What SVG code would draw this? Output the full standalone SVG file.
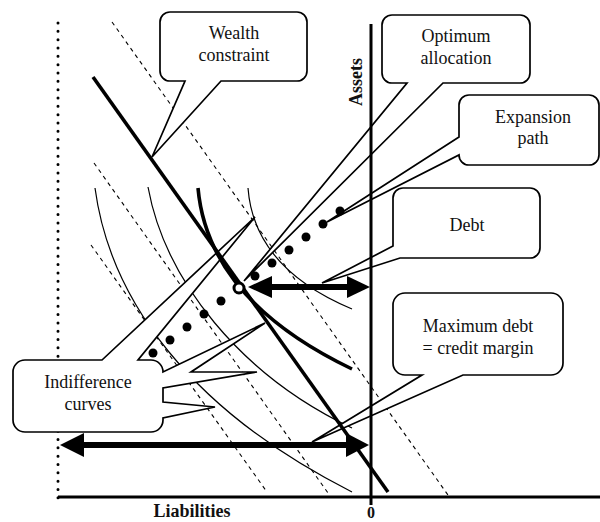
<svg xmlns="http://www.w3.org/2000/svg" width="600" height="522" viewBox="0 0 600 522">
<style>
.bg{fill:#fff}
.dash{fill:none;stroke:#000;stroke-width:1.1;stroke-dasharray:4 4}
.thin{fill:none;stroke:#000;stroke-width:1.2}
.thick{fill:none;stroke:#000;stroke-width:3.6}
.call{fill:#fff;stroke:#000;stroke-width:1.7;stroke-linejoin:miter}
.t{font-family:"Liberation Serif","Times New Roman",serif;font-size:18px;fill:#111;text-anchor:middle}
.b{font-family:"Liberation Serif","Times New Roman",serif;font-size:18px;font-weight:bold;fill:#111;text-anchor:middle}
.axis{stroke:#000;stroke-width:3;fill:none}
.shaft{stroke:#000;stroke-width:6;fill:none}
</style>
<rect class="bg" x="0" y="0" width="600" height="522"/>

<g id="grid">
  <line x1="58" y1="23" x2="58" y2="505" stroke="#000" stroke-width="3" stroke-linecap="round" stroke-dasharray="0 8.33"/>
  <line class="dash" x1="112" y1="22" x2="448" y2="495"/>
  <line class="dash" x1="94" y1="163" x2="328" y2="493"/>
  <line class="dash" x1="91" y1="245" x2="267" y2="492"/>
  <path class="thin" d="M95,188 C110,300 190,410 352,492"/>
  <path class="thin" d="M148,187 C165,280 240,375 352,428"/>
  <path class="thin" d="M248,188 Q254,268 352,309"/>
</g>

<g id="wealth-constraint-callout">
  <path class="call" d="M170,12 H297 A10,10 0 0 1 307,22 V71 A10,10 0 0 1 297,81 H221 L152,157 L185,81 H170 A10,10 0 0 1 160,71 V22 A10,10 0 0 1 170,12 Z"/>
  <text class="t" x="234" y="39">Wealth</text>
  <text class="t" x="234" y="61">constraint</text>
</g>
<g id="optimum-callout">
  <path class="call" d="M392,15 H520 A10,10 0 0 1 530,25 V73 A10,10 0 0 1 520,83 H443 L244,281 L407,83 H392 A10,10 0 0 1 382,73 V25 A10,10 0 0 1 392,15 Z"/>
  <text class="t" x="456" y="42">Optimum</text>
  <text class="t" x="456" y="64">allocation</text>
</g>
<g id="expansion-callout">
  <path class="call" d="M469,95 H589 A10,10 0 0 1 599,105 V155 A10,10 0 0 1 589,165 H469 A10,10 0 0 1 459,155 L327,222 L459,137 V105 A10,10 0 0 1 469,95 Z"/>
  <text class="t" x="533" y="123">Expansion</text>
  <text class="t" x="533" y="144">path</text>
</g>
<g id="debt-callout">
  <path class="call" d="M403,188 H530 A10,10 0 0 1 540,198 V248 A10,10 0 0 1 530,258 H400 L322,283 L393,246 V198 A10,10 0 0 1 403,188 Z"/>
  <text class="t" x="467" y="231">Debt</text>
</g>
<g id="max-debt-callout">
  <path class="call" d="M405,293 H551 A12,12 0 0 1 563,305 V363 A12,12 0 0 1 551,375 H463 L312,442 L422,375 H405 A12,12 0 0 1 393,363 V305 A12,12 0 0 1 405,293 Z"/>
  <text class="t" x="478" y="332">Maximum debt</text>
  <text class="t" x="478" y="354">= credit margin</text>
</g>
<g id="indifference-callout">
  <path class="call" d="M25,360 H102 L255,217 L138,360 H151 A12,12 0 0 1 163,372 L265,323 L191,372 L257,372 L163,388 V402 L215,407 L163,418 V420 A12,12 0 0 1 151,432 H25 A12,12 0 0 1 13,420 V372 A12,12 0 0 1 25,360 Z"/>
  <text class="t" x="88" y="388">Indifference</text>
  <text class="t" x="88" y="410">curves</text>
</g>

<g id="connectors">
  <path class="thick" d="M198,188 Q208,300 352,369"/>
  <line class="thick" x1="93" y1="77" x2="388" y2="492"/>
  <g id="expansion-path" fill="#000">
    <circle cx="153" cy="353" r="4.5"/><circle cx="170" cy="340" r="4.5"/><circle cx="187" cy="327" r="4.5"/>
    <circle cx="204" cy="314" r="4.5"/><circle cx="221" cy="301" r="4.5"/>
    <circle cx="255" cy="276" r="4.5"/><circle cx="272" cy="263" r="4.5"/><circle cx="289" cy="250" r="4.5"/>
    <circle cx="306" cy="237" r="4.5"/><circle cx="323" cy="224" r="4.5"/><circle cx="340" cy="211" r="4.5"/>
  </g>
  <g id="debt-arrow">
    <line class="shaft" x1="270" y1="287" x2="350" y2="287"/>
    <polygon points="248,287 272,276 272,298"/>
    <polygon points="370,287 347,276 347,298"/>
  </g>
  <g id="max-debt-arrow">
    <line class="shaft" x1="82" y1="445" x2="348" y2="445"/>
    <polygon points="60,445 84,433 84,457"/>
    <polygon points="369,445 346,433 346,457"/>
  </g>
  <line class="axis" x1="371" y1="24" x2="371" y2="505"/>
  <line class="axis" x1="58" y1="497" x2="600" y2="497"/>
  <circle id="optimum" cx="239" cy="288" r="5" fill="#fff" stroke="#000" stroke-width="3"/>
</g>

<text class="b" transform="translate(362,82) rotate(-90)">Assets</text>
<text class="b" x="192" y="517">Liabilities</text>
<text class="b" x="371" y="518" style="font-size:16px">0</text>
</svg>
